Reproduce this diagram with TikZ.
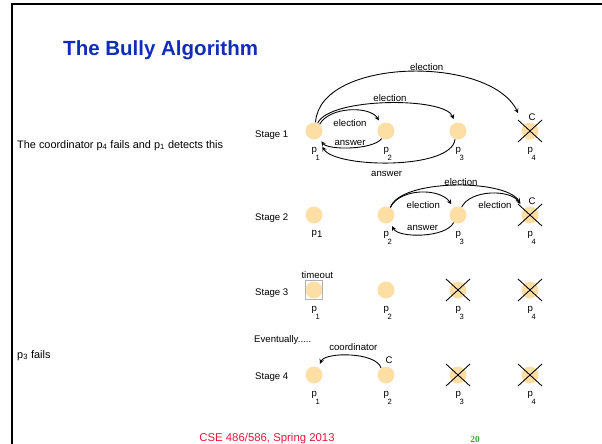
\documentclass[tikz,border=0pt]{standalone}
\usepackage{fontspec}
\setmainfont{Liberation Sans}
\newfontfamily\pagefont{Liberation Serif}
\usepackage{tikz}

\definecolor{procfill}{RGB}{253,223,165}
\definecolor{titleblue}{RGB}{16,44,186}
\definecolor{footred}{RGB}{232,22,58}
\definecolor{pagegreen}{RGB}{40,178,40}

\newcommand{\plow}[1]{p\kern-1.2pt\raisebox{-7.5pt}{\fontsize{6.5}{7}\selectfont #1}}

\begin{document}
\begin{tikzpicture}[x=0.03cm,y=-0.03cm,>=stealth,
 proc/.style={circle,fill=procfill,minimum size=0.51cm,inner sep=0pt},
 txt/.style={font=\fontsize{8.2}{9.8}\selectfont,inner sep=0pt},
 lab/.style={txt,anchor=base},
 plab/.style={txt,anchor=base west},
 note/.style={anchor=base west,inner sep=0pt,font=\fontsize{9.3}{11}\selectfont},
 msg/.style={->,line width=0.75pt},
 dead/.style={line width=0.75pt},
 tobox/.style={draw=black!30,line width=0.8pt,minimum width=0.52cm,minimum height=0.56cm,inner sep=0pt}]
\useasboundingbox (0,0) rectangle (602,444);
\draw[line width=1.7pt] (12,444) -- (12,4) -- (602,4);
\node[anchor=base west,inner sep=0pt,font=\fontsize{17.5}{20}\selectfont\bfseries,text=titleblue] (title) at (63,55) {The Bully Algorithm};

\foreach \s/\y in {1/131,2/215,3/290,4/375}
 \foreach \i/\x in {1/314,2/386,3/458,4/530}
  \node[proc] (s\s-p\i) at (\x,\y) {};
\foreach \n in {s1-p4,s2-p4,s3-p3,s3-p4,s4-p3,s4-p4}
 \draw[dead] (\n.center) ++(-12,-11) -- ++(24,22) (\n.center) ++(-12,11) -- ++(24,-22);
\node[tobox] (s3-box) at (s3-p1) {};

\node[plab] (stage1) at (255,137) {Stage 1};
\node[plab] (stage2) at (255,220.5) {Stage 2};
\node[plab] (stage3) at (255,295) {Stage 3};
\node[plab] (stage4) at (255,379.5) {Stage 4};
\node[plab] (eventually) at (254,342.5) {Eventually.....};
\node[note] (note1) at (17,148) {The coordinator p\textsubscript{4} fails and p\textsubscript{1} detects this};
\node[note] (note3) at (17,358) {p\textsubscript{3} fails};

\node[plab] (s1-l1) at (311.5,152) {\plow{1}};
\node[plab] (s1-l2) at (383.5,152) {\plow{2}};
\node[plab] (s1-l3) at (455.5,152) {\plow{3}};
\node[plab] (s1-l4) at (527.5,152) {\plow{4}};
\node[plab] (s2-l1) at (311.5,235) {p\raisebox{-2.5pt}{1}};
\node[plab] (s2-l2) at (383.5,236) {\plow{2}};
\node[plab] (s2-l3) at (455.5,236) {\plow{3}};
\node[plab] (s2-l4) at (527.5,236) {\plow{4}};
\node[plab] (s3-l1) at (311.5,311) {\plow{1}};
\node[plab] (s3-l2) at (383.5,311) {\plow{2}};
\node[plab] (s3-l3) at (455.5,311) {\plow{3}};
\node[plab] (s3-l4) at (527.5,311) {\plow{4}};
\node[plab] (s4-l1) at (311.5,396) {\plow{1}};
\node[plab] (s4-l2) at (383.5,396) {\plow{2}};
\node[plab] (s4-l3) at (455.5,396) {\plow{3}};
\node[plab] (s4-l4) at (527.5,396) {\plow{4}};

\node[lab] (s1-c) at (532,120) {C};
\node[lab] (s2-c) at (532,204) {C};
\node[lab] (s4-c) at (389,363.3) {C};
\node[lab] (timeout) at (317.3,278.3) {timeout};

\draw[msg,shorten >=11pt] (s1-p1.80) .. controls +(4,-65) and +(-34,-70) .. (s1-p4.north west);
\draw[msg,shorten >=3.4pt] (s1-p1.65) .. controls +(12,-26) and +(-10,-26) .. (s1-p3.110);
\draw[msg,shorten >=3.4pt] (s1-p1.50) .. controls +(10,-18) and +(-11,-18) .. (s1-p2.125);
\draw[msg,shorten >=3.4pt] (s1-p2.240) .. controls +(-8.75,11.6) and +(9,12) .. (s1-p1.-55);
\draw[msg,shorten >=7.7pt] (s1-p3.250) .. controls +(-3,31) and +(17.4,29.3) .. (s1-p1.-65);
\node[lab] (s1-e1) at (426.7,70) {election};
\node[lab] (s1-e2) at (390,101.7) {election};
\node[lab] (s1-e3) at (350,126) {election};
\node[lab] (s1-a1) at (350,145) {answer};
\node[lab] (s1-a2) at (386.7,176) {answer};

\draw[msg,shorten >=6pt] (s2-p2.60) .. controls +(9.75,-28.6) and +(-19,-30) .. (s2-p4.north west);
\draw[msg,shorten >=3.4pt] (s2-p2.60) .. controls +(9.75,-19.6) and +(-13.75,-19.6) .. (s2-p3.120);
\draw[msg,shorten >=5pt] (s2-p3.65) .. controls +(8.4,-17.3) and +(-14,-20) .. (s2-p4.north west);
\draw[msg,shorten >=3.4pt] (s2-p3.240) .. controls +(-7.75,15.6) and +(7.75,15.6) .. (s2-p2.-60);
\node[lab] (s2-e1) at (461,185) {election};
\node[lab] (s2-e2) at (423.3,208.3) {election};
\node[lab] (s2-e3) at (495,208.3) {election};
\node[lab] (s2-a1) at (422.7,230) {answer};

\draw[msg,shorten >=3.4pt] (s4-p2.125) .. controls +(-5,-16) and +(6.75,-15.6) .. (s4-p1.60);
\node[lab] (s4-co) at (353.3,350.7) {coordinator};

\node[anchor=base,inner sep=0pt,font=\fontsize{9.7}{11}\selectfont,text=footred] (footer) at (267,441.7) {CSE 486/586, Spring 2013};
\node[anchor=base,inner sep=0pt,font=\pagefont\bfseries\fontsize{8}{9}\selectfont,text=pagegreen] (pageno) at (475,442.5) {20};
\end{tikzpicture}
\end{document}
